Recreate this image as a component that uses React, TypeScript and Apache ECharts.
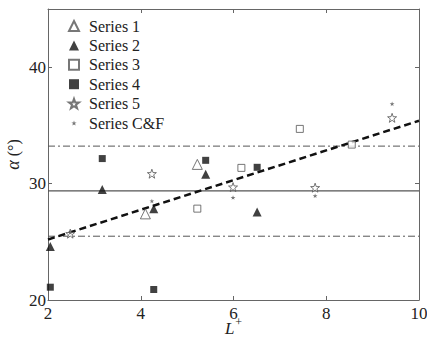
import React, { useEffect, useRef } from "react";
import * as echarts from "echarts";

// ---- data ----
const series1: [number, number][] = [[4.1, 27.4], [5.22, 31.65]];
const series2: [number, number][] = [[2.05, 24.6], [3.17, 29.5], [4.28, 27.85], [5.4, 30.8], [6.51, 27.55]];
const series3: [number, number][] = [[5.22, 27.85], [6.17, 31.35], [7.43, 34.7], [8.55, 33.35]];
const series4: [number, number][] = [[2.05, 21.1], [3.17, 32.15], [4.28, 20.9], [5.4, 32.0], [6.51, 31.4]];
const series5: [number, number][] = [[2.48, 25.7], [4.24, 30.85], [5.99, 29.7], [7.76, 29.65], [9.42, 35.65]];
const seriesCF: [number, number][] = [[2.48, 25.8], [4.24, 28.5], [5.99, 28.8], [7.76, 28.95], [9.42, 36.85]];

const meanValue = 29.37;
const bandUpper = 33.22;
const bandLower = 25.48;
const fitLine: [number, number][] = [[2, 25.2], [10, 35.4]];
const xRange: [number, number] = [2, 10];

const seriesNames = ["Series 1", "Series 2", "Series 3", "Series 4", "Series 5", "Series C&F"];

const STAR = "M50 0 L61.76 33.82 L97.55 34.55 L69.02 56.18 L79.39 90.45 L50 70 L20.61 90.45 L30.98 56.18 L2.45 34.55 L38.24 33.82 Z";
const STAR_PATH = "path://" + STAR;
const SMALL_STAR_PATH = "path://M-40 -45 M140 135 " + STAR;

const FONT = "Liberation Serif";

export default function App() {
  const ref = useRef<HTMLDivElement>(null);
  useEffect(() => {
    if (!ref.current) return;
    const chart = echarts.init(ref.current, undefined, { renderer: "svg" });
    const frame = "#666";
    const tickCommon = { show: true, inside: true, length: 4, lineStyle: { color: frame } };
    const hLine = (v: number) => xRange.map((x) => [x, v]);
    chart.setOption({
      animation: false,
      backgroundColor: "#fff",
      textStyle: { fontFamily: FONT },
      grid: { left: 48, right: 8, top: 9, bottom: 38, containLabel: false, outerBoundsMode: "none" },
      legend: {
        data: seriesNames,
        orient: "vertical",
        left: 68,
        top: 18,
        padding: 0,
        itemWidth: 10,
        itemHeight: 10,
        itemGap: 3.4,
        textStyle: { fontFamily: FONT, fontSize: 16, color: "#222", lineHeight: 16, padding: [0, 0, 0, 5] },
        selectedMode: false,
      },
      xAxis: [
        {
          type: "value",
          min: 2,
          max: 10,
          interval: 2,
          position: "bottom",
          name: "{it|L}{sup|+}",
          nameLocation: "middle",
          nameGap: 16,
          nameMoveOverlap: false,
          nameTextStyle: {
            fontFamily: FONT,
            rich: {
              it: { fontFamily: FONT, fontStyle: "italic", fontSize: 17, lineHeight: 24, verticalAlign: "middle", color: "#222" },
              sup: { fontFamily: FONT, fontSize: 12, lineHeight: 12, verticalAlign: "top", color: "#222", padding: [0, 0, 0, 1] },
            },
          },
          axisLine: { show: true, lineStyle: { color: frame } },
          axisTick: tickCommon,
          axisLabel: { fontFamily: FONT, fontSize: 17, color: "#222", margin: 5 },
          splitLine: { show: false },
        },
        {
          type: "value",
          min: 2,
          max: 10,
          interval: 2,
          position: "top",
          axisLine: { show: true, lineStyle: { color: frame } },
          axisTick: tickCommon,
          axisLabel: { show: false },
          splitLine: { show: false },
        },
      ],
      yAxis: [
        {
          type: "value",
          min: 20,
          max: 45,
          interval: 10,
          position: "left",
          name: "{it|α} (°)",
          nameLocation: "middle",
          nameRotate: 90,
          nameGap: 26,
          nameMoveOverlap: false,
          nameTextStyle: {
            fontFamily: FONT,
            fontSize: 16,
            color: "#222",
            rich: {
              it: { fontFamily: FONT, fontStyle: "italic", fontSize: 18, color: "#222" },
            },
          },
          axisLine: { show: true, lineStyle: { color: frame } },
          axisTick: tickCommon,
          axisLabel: { fontFamily: FONT, fontSize: 17, color: "#222", margin: 2, showMaxLabel: false },
          splitLine: { show: false },
        },
        {
          type: "value",
          min: 20,
          max: 45,
          interval: 10,
          position: "right",
          axisLine: { show: true, lineStyle: { color: frame } },
          axisTick: tickCommon,
          axisLabel: { show: false },
          splitLine: { show: false },
        },
      ],
      series: [
        {
          name: "mean",
          type: "line",
          data: hLine(meanValue),
          symbol: "none",
          lineStyle: { color: "#555", width: 1.3 },
          z: 1,
        },
        {
          name: "upper",
          type: "line",
          data: hLine(bandUpper),
          symbol: "none",
          lineStyle: { color: "#555", width: 1, type: [7, 3, 2, 3] },
          z: 1,
        },
        {
          name: "lower",
          type: "line",
          data: hLine(bandLower),
          symbol: "none",
          lineStyle: { color: "#555", width: 1, type: [7, 3, 2, 3] },
          z: 1,
        },
        {
          name: "fit",
          type: "line",
          data: fitLine,
          symbol: "none",
          lineStyle: { color: "#111", width: 2.5, type: [7, 4] },
          z: 2,
        },
        {
          name: "Series 1",
          type: "scatter",
          data: series1,
          symbol: "triangle",
          symbolSize: 10,
          itemStyle: { color: "#fff", borderColor: "#555", borderWidth: 1 },
          z: 3,
        },
        {
          name: "Series 2",
          type: "scatter",
          data: series2,
          symbol: "triangle",
          symbolSize: 9,
          itemStyle: { color: "#111" },
          z: 3,
        },
        {
          name: "Series 3",
          type: "scatter",
          data: series3,
          symbol: "rect",
          symbolSize: 7,
          itemStyle: { color: "#fff", borderColor: "#555", borderWidth: 1 },
          z: 3,
        },
        {
          name: "Series 4",
          type: "scatter",
          data: series4,
          symbol: "rect",
          symbolSize: 7,
          itemStyle: { color: "#111" },
          z: 3,
        },
        {
          name: "Series 5",
          type: "scatter",
          data: series5,
          symbol: STAR_PATH,
          symbolSize: 9,
          itemStyle: { color: "#fff", borderColor: "#555", borderWidth: 1 },
          z: 3,
        },
        {
          name: "Series C&F",
          type: "scatter",
          data: seriesCF,
          symbol: SMALL_STAR_PATH,
          symbolSize: 9,
          itemStyle: { color: "#555" },
          z: 4,
        },
      ],
    });
    return () => chart.dispose();
  }, []);
  return (
    <div
      ref={ref}
      style={{ position: "fixed", left: 0, top: 0, width: 427, height: 338, background: "#fff" }}
    />
  );
}
